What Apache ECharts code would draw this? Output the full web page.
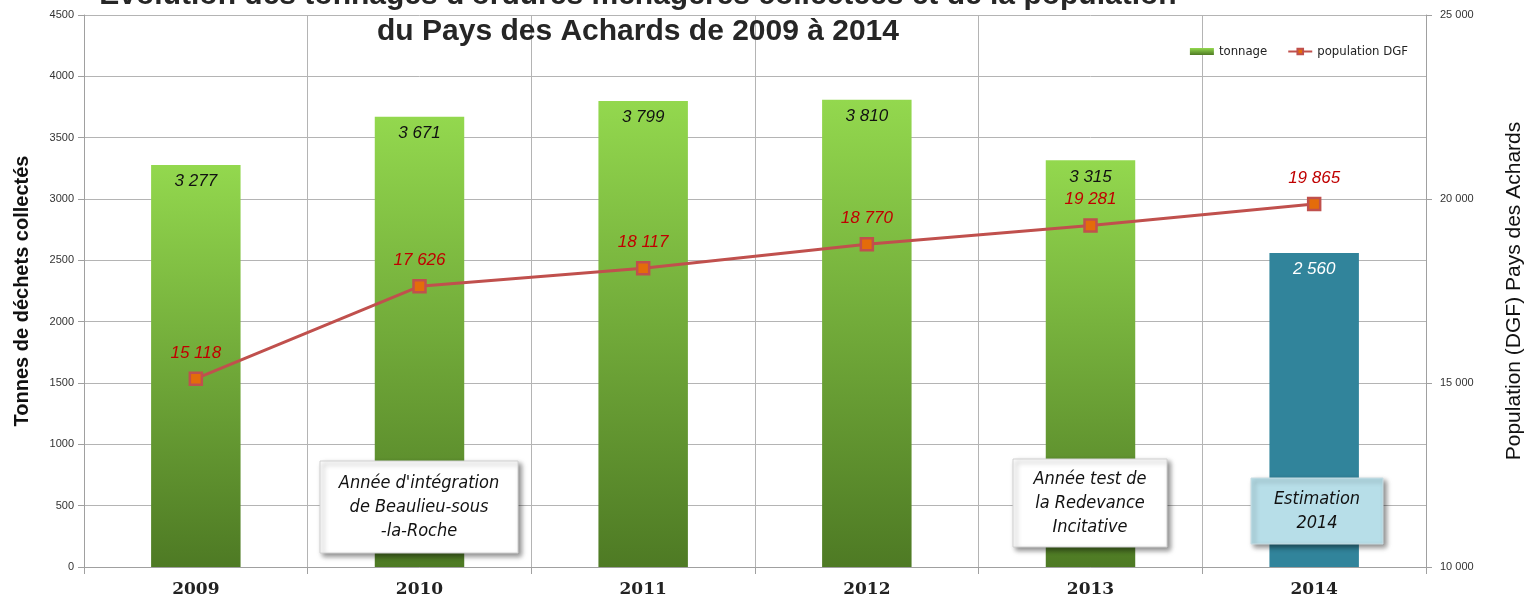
<!DOCTYPE html>
<html>
<head>
<meta charset="utf-8">
<script src="https://cdn.jsdelivr.net/npm/echarts@6/dist/echarts.min.js"></script>
<style>
  html, body { margin: 0; padding: 0; background: #fff; }
  #chart { width: 1535px; height: 602px; }
</style>
</head>
<body>
<div id="chart"></div>
<script>
// data
var years = ['2009', '2010', '2011', '2012', '2013', '2014'];
var tonnage = [3277, 3671, 3799, 3810, 3315, 2560];
var population = [15118, 17626, 18117, 18770, 19281, 19865];

function fmt(n) {
  return String(n).replace(/\B(?=(\d{3})+(?!\d))/g, ' ');
}

var greenBar = new echarts.graphic.LinearGradient(0, 0, 0, 1, [
  { offset: 0, color: '#93d84e' },
  { offset: 1, color: '#4e7a24' }
]);

var barData = tonnage.map(function (v, i) {
  if (years[i] === '2014') {
    return { value: v, itemStyle: { color: '#31849b' }, label: { color: '#fff' } };
  }
  return v;
});

var boxFont = 'italic 500 18px "Liberation Sans Narrow", "DejaVu Sans Condensed", "Liberation Sans", sans-serif';
var boxShadow = { shadowBlur: 5, shadowOffsetX: 3, shadowOffsetY: 3, shadowColor: 'rgba(0,0,0,0.45)' };

var chart = echarts.init(document.getElementById('chart'));

var option = {
  animation: false,
  grid: { left: 84, right: 109, top: 15, bottom: 35 },
  legend: {
    right: 122,
    top: 40,
    itemWidth: 24,
    itemHeight: 7,
    itemGap: 20,
    textStyle: { fontSize: 13, color: '#222', fontFamily: 'Liberation Sans Narrow, DejaVu Sans Condensed, sans-serif' },
    data: [{ name: 'tonnage', icon: 'rect' }, { name: 'population DGF' }]
  },
  graphic: [
    {
      type: 'text', z: 100, style: {
        text: "Évolution des tonnages d'ordures ménagères collectées et de la population",
        x: 638, y: -4, align: 'center', verticalAlign: 'middle',
        font: 'bold 30px "Liberation Sans", Arial, sans-serif', fill: '#262626'
      }
    },
    {
      type: 'text', z: 100, style: {
        text: 'du Pays des Achards de 2009 à 2014',
        x: 638, y: 32, align: 'center', verticalAlign: 'middle',
        font: 'bold 30px "Liberation Sans", Arial, sans-serif', fill: '#262626'
      }
    },
    // annotation boxes
    {
      type: 'group', x: 320, y: 461, z: 100, children: [
        { type: 'rect', z: 100, shape: { width: 198, height: 92 },
          style: Object.assign({ fill: '#fff', stroke: '#d0d0d0', lineWidth: 1 }, boxShadow) },
        { type: 'text', z: 101, style: { text: "Année d'intégration\nde Beaulieu-sous\n-la-Roche", x: 99, y: 46, align: 'center', verticalAlign: 'middle',
          lineHeight: 24, font: boxFont, fill: '#111' } }
      ]
    },
    {
      type: 'group', x: 1013, y: 459, z: 100, children: [
        { type: 'rect', z: 100, shape: { width: 154, height: 88 },
          style: Object.assign({ fill: '#fff', stroke: '#d0d0d0', lineWidth: 1 }, boxShadow) },
        { type: 'text', z: 101, style: { text: 'Année test de\nla Redevance\nIncitative', x: 77, y: 44, align: 'center', verticalAlign: 'middle',
          lineHeight: 24, font: boxFont, fill: '#111' } }
      ]
    },
    {
      type: 'group', x: 1251, y: 478, z: 100, children: [
        { type: 'rect', z: 100, shape: { width: 132, height: 66 },
          style: Object.assign({ fill: '#b7dee8', stroke: '#c8dde3', lineWidth: 1 }, boxShadow) },
        { type: 'text', z: 101, style: { text: 'Estimation\n2014', x: 66, y: 33, align: 'center', verticalAlign: 'middle',
          lineHeight: 24, font: boxFont, fill: '#111' } }
      ]
    }
  ],
  xAxis: {
    type: 'category',
    data: years,
    axisLine: { lineStyle: { color: '#a0a0a0' } },
    axisTick: { show: true, length: 7, lineStyle: { color: '#a0a0a0' } },
    splitLine: { show: true, lineStyle: { color: '#b4b4b4' } },
    axisLabel: { margin: 14, fontSize: 17, fontWeight: 'bold', color: '#222', fontFamily: 'DejaVu Serif, serif' }
  },
  yAxis: [
    {
      type: 'value',
      min: 0, max: 4500, interval: 500,
      name: 'Tonnes de déchets collectés',
      nameLocation: 'middle',
      nameRotate: 90,
      nameGap: 52,
      nameTextStyle: { fontSize: 20, fontWeight: 'bold', color: '#111', fontFamily: 'Liberation Sans, Arial, sans-serif' },
      axisLine: { show: true, lineStyle: { color: '#a0a0a0' } },
      axisTick: { show: true, length: 6, lineStyle: { color: '#a0a0a0' } },
      splitLine: { show: true, lineStyle: { color: '#b4b4b4' } },
      axisLabel: { fontSize: 11, color: '#333', margin: 10, formatter: function (v) { return String(v); } }
    },
    {
      type: 'value',
      min: 10000, max: 25000, interval: 5000,
      name: 'Population (DGF) Pays des Achards',
      nameLocation: 'middle',
      nameRotate: 90,
      nameGap: 78,
      nameTextStyle: { fontSize: 21, color: '#111', fontFamily: 'Liberation Sans, Arial, sans-serif' },
      axisLine: { show: true, lineStyle: { color: '#a0a0a0' } },
      axisTick: { show: true, length: 6, lineStyle: { color: '#a0a0a0' } },
      splitLine: { show: false },
      axisLabel: { fontSize: 11, color: '#333', margin: 14, formatter: function (v) { return fmt(v); } }
    }
  ],
  series: [
    {
      name: 'tonnage',
      type: 'bar',
      barWidth: '40%',
      data: barData,
      itemStyle: { color: greenBar },
      label: {
        show: true, position: 'insideTop', distance: 8,
        fontSize: 17, fontStyle: 'italic', color: '#111',
        fontFamily: 'Liberation Sans, Arial, sans-serif',
        formatter: function (p) { return fmt(p.value); }
      }
    },
    {
      name: 'population DGF',
      type: 'line',
      yAxisIndex: 1,
      data: population,
      symbol: 'rect',
      symbolSize: 12,
      lineStyle: { color: '#c0504d', width: 3 },
      itemStyle: { color: '#e46c0a', borderColor: '#c0504d', borderWidth: 2.5 },
      label: {
        show: true, position: 'top', distance: 10,
        fontSize: 17, fontStyle: 'italic', color: '#c00000',
        fontFamily: 'Liberation Sans, Arial, sans-serif',
        formatter: function (p) { return fmt(p.value); }
      },
      z: 5
    }
  ]
};

chart.setOption(option);
</script>
</body>
</html>
